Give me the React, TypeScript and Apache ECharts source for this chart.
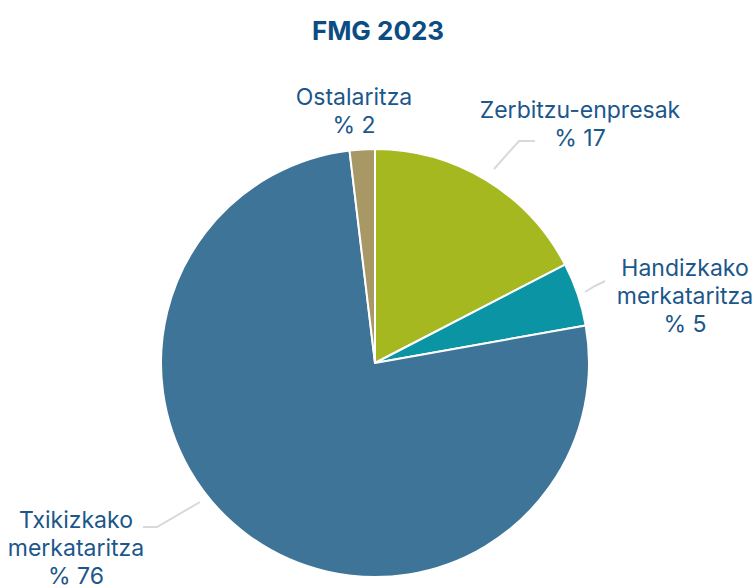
import React, { useEffect, useRef } from "react";
import * as echarts from "echarts";

const title = "FMG 2023";
const categories = ["Zerbitzu-enpresak", "Handizkako\nmerkataritza", "Txikizkako\nmerkataritza", "Ostalaritza"];
const values = [17.4, 4.8, 75.9, 1.9];
const colors = ["#a5b81f", "#0b95a4", "#3e7497", "#a89866"];

// label layout (positions of label blocks and leader lines)
const labelPos: [number, number][] = [
  [580, 124],
  [685, 296],
  [76, 548],
  [354, 111],
];
const linePts: ([number, number][] | null)[] = [
  [[494, 169], [519, 141], [535, 141]],
  [[585, 292], [595, 286], [605, 281]],
  [[200, 502], [157, 527], [143, 527]],
  null,
];

export default function App() {
  const ref = useRef<HTMLDivElement>(null);
  useEffect(() => {
    document.body.style.margin = "0";
    const chart = echarts.init(ref.current!, null, { renderer: "svg" });
    chart.setOption({
      animation: false,
      backgroundColor: "#ffffff",
      title: {
        text: title,
        left: "center",
        top: 12,
        textStyle: {
          fontFamily: "Inter",
          fontWeight: "bold",
          fontSize: 26,
          color: "#0b4c82",
        },
      },
      series: [
        {
          type: "pie",
          center: [375, 363],
          radius: 214,
          startAngle: 90,
          clockwise: true,
          data: categories.map((c, i) => ({
            name: c,
            value: values[i],
            itemStyle: { color: colors[i] },
          })),
          itemStyle: { borderColor: "#ffffff", borderWidth: 2 },
          label: {
            show: true,
            position: "outside",
            overflow: "none",
            formatter: (p: any) => `${p.name}\n% ${Math.round(p.value)}`,
            fontFamily: "Inter",
            fontSize: 23,
            lineHeight: 28,
            color: "#1b578a",
          },
          labelLine: {
            show: true,
            lineStyle: { color: "#d9d9d9", width: 2 },
          },
          labelLayout: (params: any) => {
            const i = params.dataIndex;
            const res: any = {
              x: labelPos[i][0],
              y: labelPos[i][1],
              align: "center",
              verticalAlign: "middle",
            };
            if (linePts[i]) res.labelLinePoints = linePts[i];
            else res.labelLinePoints = [[0, 0], [0, 0], [0, 0]];
            return res;
          },
        },
      ],
    });
    return () => chart.dispose();
  }, []);
  return <div ref={ref} style={{ width: 756, height: 586 }} />;
}
